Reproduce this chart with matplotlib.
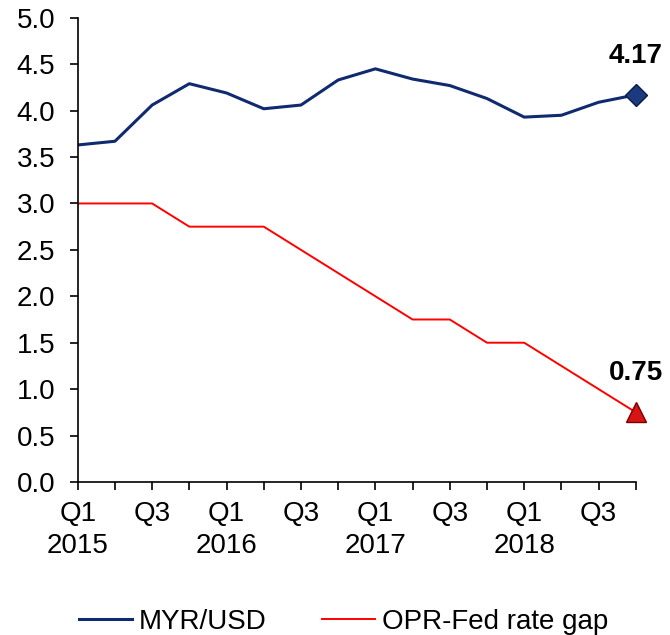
import numpy as np
import matplotlib
matplotlib.use('Agg')
import matplotlib.pyplot as plt

plt.rcParams['font.family'] = ['Liberation Sans', 'DejaVu Sans']

quarters = ['Q1\n2015', 'Q2', 'Q3', 'Q4', 'Q1\n2016', 'Q2', 'Q3', 'Q4',
            'Q1\n2017', 'Q2', 'Q3', 'Q4', 'Q1\n2018', 'Q2', 'Q3', 'Q4']
tick_labels = ['Q1\n2015', '', 'Q3', '', 'Q1\n2016', '', 'Q3', '',
               'Q1\n2017', '', 'Q3', '', 'Q1\n2018', '', 'Q3', '']
myr_usd = [3.63, 3.67, 4.06, 4.29, 4.19, 4.02, 4.06, 4.33,
           4.45, 4.34, 4.27, 4.13, 3.93, 3.95, 4.09, 4.17]
rate_gap = [3.0, 3.0, 3.0, 2.75, 2.75, 2.75, 2.5, 2.25,
            2.0, 1.75, 1.75, 1.5, 1.5, 1.25, 1.0, 0.75]

navy = '#0f2a6e'
red = '#ff0000'

x = np.arange(len(quarters))

fig = plt.figure(figsize=(6.7, 6.35), dpi=100)
ax = fig.add_axes([0.116, 0.241, 0.833, 0.731])

ax.plot(x, myr_usd, color=navy, lw=2.2, label='MYR/USD')
ax.plot(x, rate_gap, color=red, lw=1.4, label='OPR-Fed rate gap')

# end-point markers
ax.plot(x[-1], myr_usd[-1], marker='D', ms=11, color='#1c3a80', mec='#0a1a40', mew=1,
        zorder=5, clip_on=False)
ax.plot(x[-1], rate_gap[-1], marker='^', ms=14, color='#d81414', mec='#7a0000', mew=1,
        zorder=5, clip_on=False)

ax.text(x[-1], myr_usd[-1] + 0.28, '%.2f' % myr_usd[-1], ha='center', va='bottom',
        fontsize=20, fontweight='bold')
ax.text(x[-1], rate_gap[-1] + 0.28, '%.2f' % rate_gap[-1], ha='center', va='bottom',
        fontsize=20, fontweight='bold')

ax.set_xlim(0, 15)
ax.set_ylim(0, 5)
ax.set_yticks(np.arange(0, 5.01, 0.5))
ax.set_yticklabels(['%.1f' % v for v in np.arange(0, 5.01, 0.5)])
ax.set_xticks(x)
ax.set_xticklabels(tick_labels, linespacing=1.3)
ax.tick_params(axis='both', labelsize=20, direction='out', length=6, width=1.2, color='black')
ax.tick_params(axis='y', pad=10)
ax.tick_params(axis='x', pad=8)

for s in ['top', 'right']:
    ax.spines[s].set_visible(False)
for s in ['left', 'bottom']:
    ax.spines[s].set_linewidth(1.2)

ax.legend(loc='upper center', bbox_to_anchor=(0.477, -0.22), ncol=2, frameon=False,
          fontsize=20, handlelength=1.9, handletextpad=0.25, columnspacing=2.0)

fig.savefig('out.png', dpi=100)
